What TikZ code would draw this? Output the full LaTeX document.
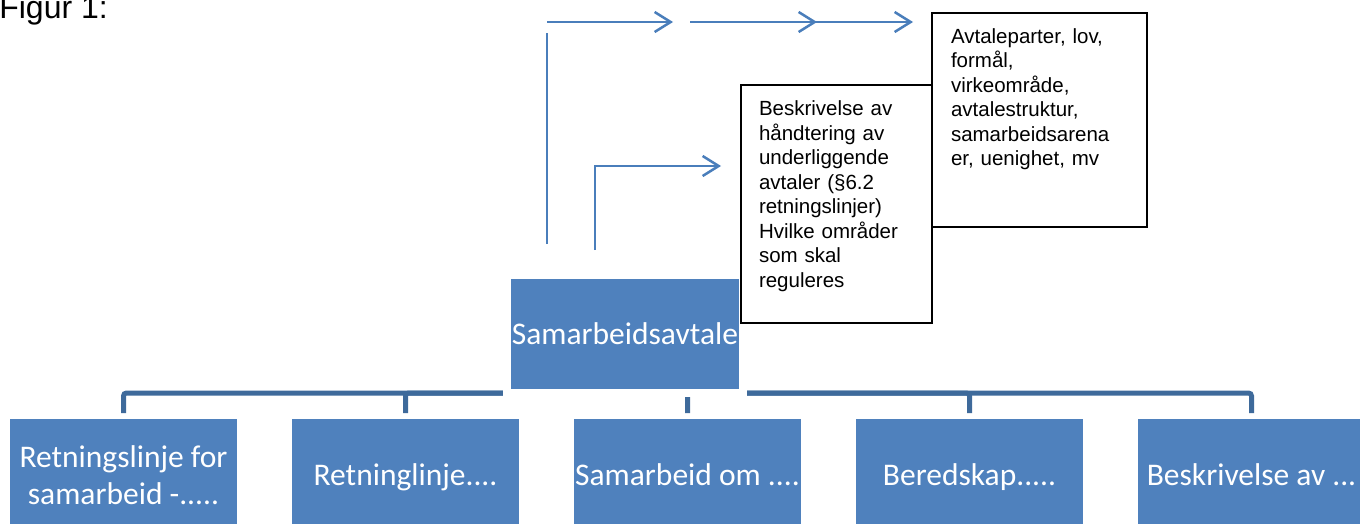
\documentclass[tikz,border=0pt]{standalone}
\usepackage{fontspec}
\setmainfont{Liberation Sans}
\newfontfamily\calibrifont{Carlito}
\usetikzlibrary{positioning, arrows.meta, backgrounds, calc}
\definecolor{boxblue}{HTML}{4F81BD}
\definecolor{linkblue}{HTML}{4A7EBB}
\definecolor{busblue}{HTML}{3E6A9B}

\begin{document}
\begin{tikzpicture}[
    x=1pt, y=-1pt,
    node distance=55pt,
    orgbox/.style={rectangle, fill=boxblue, text=white, inner sep=0pt, outer sep=0pt, align=center, font=\calibrifont\fontsize{31.5}{37}\selectfont},
    subbox/.style={orgbox, minimum width=227pt, minimum height=108pt, text height=36pt, text depth=11pt},
    note/.style={rectangle, draw=black, line width=2pt, fill=white, anchor=north west, align=left, inner xsep=18pt, inner ysep=13pt, font=\fontsize{20.5}{24.5}\selectfont},
    flow/.style={draw=linkblue, line width=2.5pt, -{Straight Barb[length=16pt, width=20pt]}},
    bus/.style={draw=busblue, line width=5pt, rounded corners=3pt}
]
\useasboundingbox (0,0) rectangle (1360,524);

\node[anchor=base east, inner sep=0pt, font=\fontsize{32}{38}\selectfont] (figtitle) at (108,18.3) {Figur 1:};

\node[orgbox, draw=white, line width=8pt, minimum width=236pt, minimum height=118pt] (sam) at (625,334) {Samarbeidsavtale};

\node[subbox, text height=73pt] (retn) at (123.5,473) {Retningslinje for\\samarbeid -.....};
\node[subbox, right=of retn] (retnl) {Retninglinje....};
\node[subbox, right=of retnl] (samom) {Samarbeid om ....};
\node[subbox, right=of samom] (bered) {Beredskap.....};
\node[subbox, right=of bered] (beskr) {Beskrivelse av ...};

\begin{scope}[on background layer]
\foreach \unitname in {retn, retnl, samom, bered, beskr}
    \draw[bus] (sam.south) -| ($(\unitname.north)+(0,-6)$);
\end{scope}

\node[note, text width=155pt, text depth=194.35pt] (handtering) at (740,84.5) {\strut Beskrivelse av\\håndtering av\\underliggende\\avtaler (§6.2\\retningslinjer)\\Hvilke områder\\som skal\\reguleres};
\node[note, text width=177pt, inner xsep=19pt, inner ysep=12.5pt, text depth=171.35pt] (avtale) at (931,12.5) {\strut Avtaleparter, lov,\\formål,\\virkeområde,\\avtalestruktur,\\samarbeidsarena\\er, uenighet, mv};

\coordinate (rise) at (547,244);
\coordinate (risetop) at (547,33);
\coordinate (run1) at (547,22);
\coordinate (run1end) at (673,22);
\coordinate (run2) at (690,22);
\coordinate (run2end) at (817,22);
\coordinate (run3) at (787,22);
\coordinate (run3end) at (913,22);
\coordinate (turn) at (595,250);
\coordinate (turnend) at (721,166);

\draw[flow, -] (rise) -- (risetop);
\draw[flow] (run1) -- (run1end);
\draw[flow] (run2) -- (run2end);
\draw[flow] (run3) -- (run3end);
\draw[flow] (turn) |- (turnend);

\end{tikzpicture}
\end{document}
